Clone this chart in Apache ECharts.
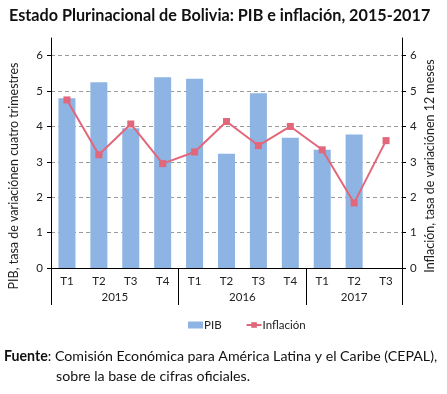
<!DOCTYPE html>
<html><head><meta charset="utf-8">
<script src="https://cdn.jsdelivr.net/npm/echarts@6/dist/echarts.min.js"></script>
<style>html,body{margin:0;padding:0;background:#fff}#c{width:447px;height:394px}</style>
</head><body><div id="c"></div>
<script>
const quarters = ['T1','T2','T3','T4','T1','T2','T3','T4','T1','T2','T3'];
const years = ['2015','2016','2017'];
const pib = [4.80, 5.25, 3.95, 5.39, 5.35, 3.23, 4.94, 3.68, 3.34, 3.77, null];
const inflacion = [4.75, 3.20, 4.07, 2.95, 3.28, 4.14, 3.46, 4.00, 3.34, 1.84, 3.60];
const yTicks = [0, 1, 2, 3, 4, 5, 6];

const F = 'Lato, "Open Sans", sans-serif';
const yearCenters = {4: years[0], 12: years[1], 19: years[2]};
const separators = [0, 8, 16, 22];
const halfSlots = Array.from({length: 23}, (_, i) => String(i));

const chart = echarts.init(document.getElementById('c'));
const yAxisBase = {
  type: 'value', min: 0, max: 6.5, interval: 1,
  axisLine: {show: true, lineStyle: {color: '#000', width: 1}},
  axisTick: {show: true, length: 4, lineStyle: {color: '#000'}, customValues: yTicks},
  axisLabel: {color: '#222', fontFamily: F, fontSize: 11.5, customValues: yTicks},
  splitLine: {show: false}
};
chart.setOption({
  animation: false,
  title: {
    text: 'Estado Plurinacional de Bolivia: PIB e inflación, 2015-2017',
    left: 4, top: 3,
    textStyle: {fontFamily: F, fontSize: 16.2, fontWeight: 'bold', color: '#111'}
  },
  grid: {left: 51, right: 45, top: 38, bottom: 126},
  legend: {
    left: 183, top: 314, itemGap: 24,
    textStyle: {fontFamily: F, fontSize: 11.5, color: '#222', padding: [0, 0, 0, -4]},
    data: [
      {name: 'PIB', icon: 'rect'},
      {name: 'Inflación'}
    ],
    itemWidth: 15, itemHeight: 7
  },
  xAxis: [
    {
      type: 'category', data: quarters, position: 'bottom',
      axisLine: {show: true, lineStyle: {color: '#000'}},
      axisTick: {show: false},
      axisLabel: {color: '#222', fontFamily: F, fontSize: 11.5, margin: 7, interval: 0}
    },
    {
      type: 'category', data: halfSlots, boundaryGap: false, position: 'bottom',
      axisLine: {show: false},
      axisTick: {show: true, length: 37, lineStyle: {color: '#000'},
        interval: (i) => separators.includes(i)},
      axisLabel: {color: '#222', fontFamily: F, fontSize: 11.5, margin: 23,
        interval: (i) => yearCenters[i] !== undefined,
        formatter: (v, i) => yearCenters[i] || ''}
    }
  ],
  yAxis: [
    Object.assign({}, yAxisBase, {position: 'left',
      splitLine: {show: true, lineStyle: {color: '#9a9a9a', type: [4, 3], width: 1}}}),
    Object.assign({}, yAxisBase, {position: 'right'})
  ],
  series: [
    {
      name: 'PIB', type: 'bar', data: pib, barWidth: 17,
      xAxisIndex: 0, yAxisIndex: 0,
      itemStyle: {color: '#8db4e2'}
    },
    {
      name: 'Inflación', type: 'line', data: inflacion,
      xAxisIndex: 0, yAxisIndex: 1,
      symbol: 'rect', symbolSize: 7,
      lineStyle: {color: '#e2677b', width: 2},
      itemStyle: {color: '#e2677b'}
    }
  ],
  graphic: [
    {type: 'text', x: 14, y: 176, rotation: Math.PI / 2,
      style: {text: 'PIB, tasa de variaciónen cuatro trimestres', fontFamily: F, fontSize: 12.5,
        fill: '#222', align: 'center', verticalAlign: 'middle'}},
    {type: 'text', x: 430, y: 166, rotation: Math.PI / 2,
      style: {text: 'Inflación, tasa de variaciónen 12 meses', fontFamily: F, fontSize: 12.5,
        fill: '#222', align: 'center', verticalAlign: 'middle'}},
    {type: 'text', x: 4, y: 349,
      style: {text: '{b|Fuente}: Comisión Económica para América Latina y el Caribe (CEPAL),',
        fontFamily: F, fontSize: 14.2, fill: '#111',
        rich: {b: {fontFamily: F, fontSize: 14.2, fontWeight: 'bold', fill: '#111'}}}},
    {type: 'text', x: 56, y: 369,
      style: {text: 'sobre la base de cifras oficiales.', fontFamily: F, fontSize: 14.2, fill: '#111'}}
  ]
});
</script></body></html>
